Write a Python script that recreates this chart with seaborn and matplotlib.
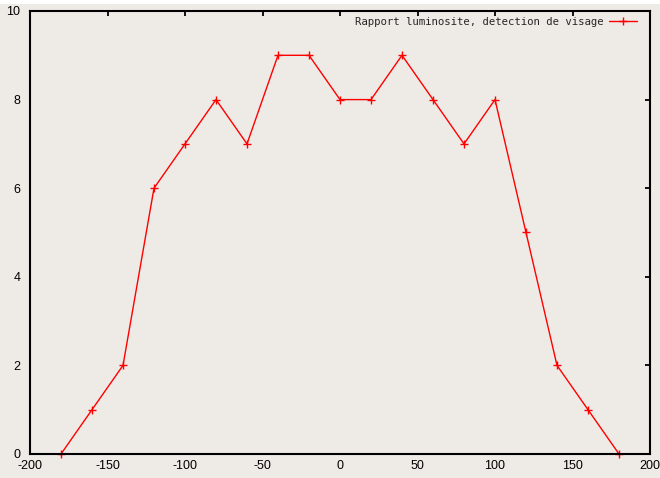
import matplotlib
matplotlib.use("Agg")
import matplotlib.pyplot as plt
import seaborn as sns
import pandas as pd
from matplotlib.patches import Rectangle

# Face-detection brightness ratio against angle
angles = [-180, -160, -140, -120, -100, -80, -60, -40, -20, 0,
          20, 40, 60, 80, 100, 120, 140, 160, 180]
ratios = [0, 1, 2, 6, 7, 8, 7, 9, 9, 8, 8, 9, 8, 7, 8, 5, 2, 1, 0]
series_label = "Rapport luminosite, detection de visage"
x_ticks = [-200, -150, -100, -50, 0, 50, 100, 150, 200]
y_ticks = [0, 2, 4, 6, 8, 10]

df = pd.DataFrame({"angle": angles, "ratio": ratios})

sns.set_style("white")
plt.rcParams["font.family"] = ["Liberation Sans", "DejaVu Sans"]
plt.rcParams["axes.unicode_minus"] = False

bg = "#eeebe7"
fig = plt.figure(figsize=(6.6, 4.78), dpi=100, facecolor=bg)
ax = fig.add_axes([30 / 660, 24 / 478, 620 / 660, 443 / 478])
ax.set_facecolor(bg)

# thin white band along the top edge
fig.patches.append(Rectangle((0, 1 - 4 / 478), 1, 4 / 478,
                             transform=fig.transFigure, facecolor="white",
                             edgecolor="none", zorder=-1))

sns.lineplot(data=df, x="angle", y="ratio", ax=ax, color="#ff0000",
             linewidth=1.0, marker="+", markersize=6, markeredgewidth=1.0,
             markeredgecolor="#ff0000", markerfacecolor="#ff0000",
             label=series_label, clip_on=False)

ax.set_xlim(-200, 200)
ax.set_ylim(0, 10)
ax.set_xticks(x_ticks)
ax.set_yticks(y_ticks)
ax.set_xlabel("")
ax.set_ylabel("")

for side in ["left", "right", "top", "bottom"]:
    ax.spines[side].set_visible(True)
    ax.spines[side].set_color("black")
    ax.spines[side].set_linewidth(1.5)

ax.tick_params(axis="both", which="major", direction="in", length=3.5,
               width=1.3, color="black", labelsize=9, labelcolor="black",
               top=True, right=True)
ax.tick_params(axis="x", pad=4)
ax.tick_params(axis="y", pad=7)

leg = ax.legend(loc="upper right", bbox_to_anchor=(1 - 5 / 620, 1 + 2 / 443),
                frameon=False, markerfirst=False,
                handlelength=2.6, handletextpad=0.5, borderaxespad=0.35,
                prop={"family": "DejaVu Sans Mono", "size": 7.7})

fig.savefig("out.png", dpi=100, facecolor=bg)
